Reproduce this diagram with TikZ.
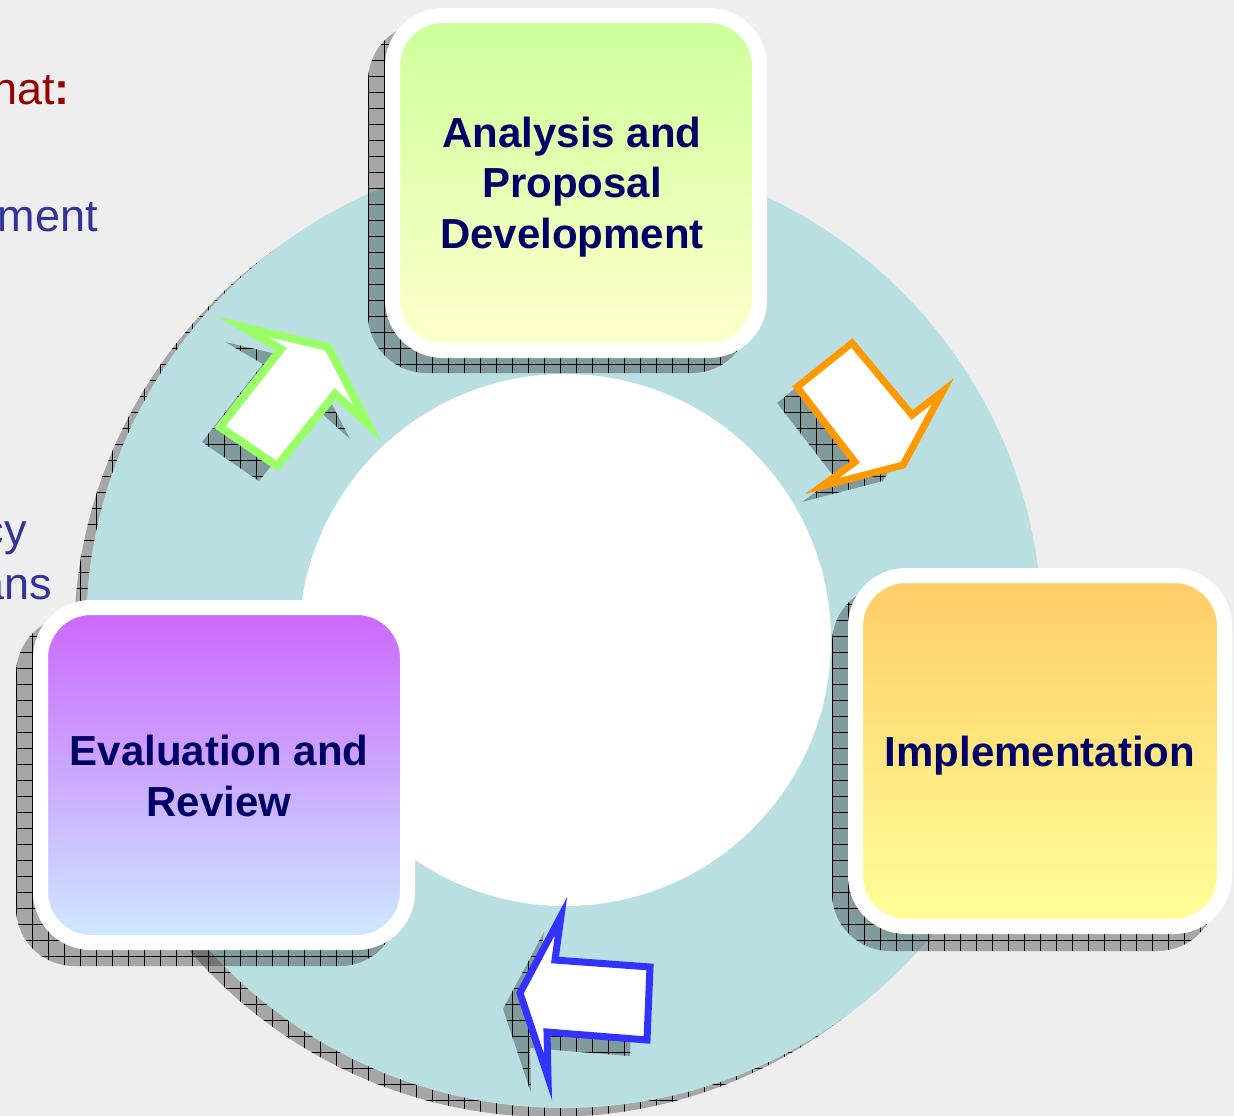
\documentclass[tikz,border=0pt]{standalone}
\usepackage{fontspec}
\setmainfont{Liberation Sans}
\usetikzlibrary{patterns.meta}
\definecolor{bg}{HTML}{EEEEEE}
\definecolor{ringteal}{HTML}{B9DFE2}
\definecolor{boxtext}{HTML}{000066}
\definecolor{bluetext}{HTML}{333399}
\definecolor{redtext}{HTML}{990000}
\definecolor{greenA}{HTML}{CCFF99}
\definecolor{greenB}{HTML}{FFFFCC}
\definecolor{orangeA}{HTML}{FFCC66}
\definecolor{orangeB}{HTML}{FFFF99}
\definecolor{violetA}{HTML}{CC66FF}
\definecolor{violetB}{HTML}{CCEBFF}
\definecolor{arrowgreen}{HTML}{99FF66}
\definecolor{arroworange}{HTML}{FF9900}
\definecolor{arrowblue}{HTML}{3333FF}
\tikzset{
  shadowfill/.style={fill=black, fill opacity=0.3,
    postaction={fill opacity=0.22, pattern={Lines[angle=0,distance=16pt,line width=0.5pt]}, pattern color=black},
    postaction={fill opacity=0.22, pattern={Lines[angle=90,distance=16pt,line width=0.5pt]}, pattern color=black}},
  stagebox/.style={rectangle, rounded corners=50.5pt, draw=white, line width=15pt,
    minimum width=367pt, minimum height=335pt},
  stagelabel/.style={align=center, text=boxtext, inner sep=0pt,
    font=\fontsize{42}{50.5}\selectfont\bfseries},
  blockarrow/.style={fill=white, line width=8pt, line join=miter, miter limit=12},
  slidetext/.style={inner sep=0pt, anchor=base east, font=\fontsize{45}{50}\selectfont},
}
\begin{document}
\begin{tikzpicture}[x=1pt,y=-1pt]
\useasboundingbox (0,0) rectangle (1234,1116);
\clip (0,0) rectangle (1234,1116);
\fill[bg] (0,0) rectangle (1234,1116);

% clipped slide text on the left
\node[slidetext, text=redtext] (t1) at (70,104) {nat\textbf{:}};
\node[slidetext, text=bluetext] (t2) at (98,231) {ment};
\node[slidetext, text=bluetext] (t3) at (27,545) {cy};
\node[slidetext, text=bluetext] (t4) at (52,599) {ans};

% ring
\fill[shadowfill] (552,639) circle (478);
\node[circle, fill=ringteal, minimum size=956pt, inner sep=0pt] (ring) at (564,630) {};
\node[circle, fill=white, minimum size=532pt, inner sep=0pt] (hole) at (565,640) {};

% box shadows
\fill[shadowfill, rounded corners=58pt] (368,23) rectangle (750,373);
\fill[shadowfill, rounded corners=58pt] (832,585) rectangle (1216,951);
\fill[shadowfill, rounded corners=58pt] (16,616) rectangle (398,966);

% stage boxes
\node[stagebox, top color=greenA, bottom color=greenB] (ana) at (576,183) {};
\node[stagebox, top color=orangeA, bottom color=orangeB, minimum width=369pt, minimum height=351pt] (impl) at (1040,751) {};
\node[stagebox, top color=violetA, bottom color=violetB] (eval) at (224,775) {};
\node[stagelabel] (anatext) at (572,187) {Analysis and\\Proposal\\Development};
\node[stagelabel] (impltext) at (1040,756) {Implementation};
\node[stagelabel] (evaltext) at (219,776) {Evaluation and\\Review};

% arrow shadows
\fill[shadowfill, shift={(-18,15)}] (220,427) -- (281,349) -- (243,327) -- (328,347) -- (368,424) -- (335,394) -- (277,466) -- cycle;
\fill[shadowfill, shift={(-20,16)}] (797,387) -- (852,343) -- (912,415) -- (943,391) -- (903,465) -- (822,486) -- (855,462) -- cycle;
\fill[shadowfill, shift={(-17,16)}] (561,916) -- (555,960) -- (650,967) -- (647,1040) -- (547,1032) -- (548,1077) -- (520,993) -- cycle;

% block arrows
\draw[blockarrow, draw=arrowgreen] (220,427) -- (281,349) -- (243,327) -- (328,347) -- (368,424) -- (335,394) -- (277,466) -- cycle;
\draw[blockarrow, draw=arroworange, line width=7pt] (797,387) -- (852,343) -- (912,415) -- (943,391) -- (903,465) -- (822,486) -- (855,462) -- cycle;
\draw[blockarrow, draw=arrowblue, line width=7pt] (561,916) -- (555,960) -- (650,967) -- (647,1040) -- (547,1032) -- (548,1077) -- (520,993) -- cycle;
\end{tikzpicture}
\end{document}
